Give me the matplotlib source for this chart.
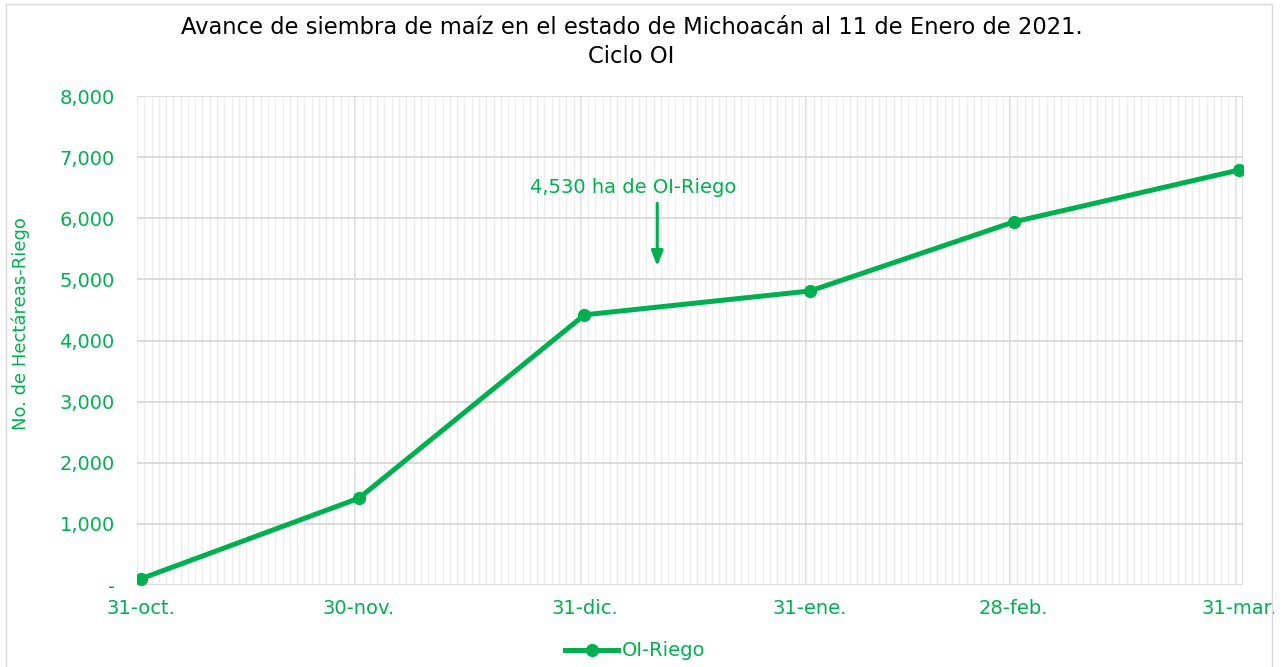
import numpy as np
import pandas as pd
import matplotlib
matplotlib.use("Agg")
import matplotlib.pyplot as plt
import matplotlib.dates as mdates
from matplotlib.ticker import FuncFormatter, MultipleLocator
from matplotlib.patches import Rectangle

# datos
fechas = pd.to_datetime(["2020-10-31", "2020-11-30", "2020-12-31",
                         "2021-01-31", "2021-02-28", "2021-03-31"])
hectareas = [100, 1420, 4420, 4810, 5940, 6790]
etiquetas_x = ["31-oct.", "30-nov.", "31-dic.", "31-ene.", "28-feb.", "31-mar."]
serie = "OI-Riego"
nota = "4,530 ha de OI-Riego"

verde = "#00B050"
plt.rcParams["font.family"] = ["DejaVu Sans"]

fig = plt.figure(figsize=(12.86, 6.67), dpi=100)
ax = fig.add_axes([137 / 1286, 1 - 585 / 667, (1243 - 137) / 1286, (585 - 96) / 667])

# excel pone cada punto a mitad del dia
medio = pd.Timedelta(hours=12)
ax.plot(fechas + medio, hectareas, color=verde, lw=3.6, marker="o", ms=8.5,
        label=serie, zorder=3)

ax.set_xlim(fechas[0], fechas[-1] + pd.Timedelta(days=1))
ax.set_ylim(0, 8000)
ax.set_xticks(fechas + medio)
ax.set_xticklabels(etiquetas_x)
ax.xaxis.set_minor_locator(mdates.DayLocator())
ax.yaxis.set_major_locator(MultipleLocator(1000))
ax.yaxis.set_major_formatter(FuncFormatter(lambda v, p: "-" if v == 0 else f"{int(v):,}"))

ax.grid(which="major", axis="y", color="#D9D9D9", lw=1.3, zorder=1)
ax.grid(which="minor", axis="x", color="#EDEDED", lw=1.0, zorder=0)
for d in list(fechas) + [fechas[-1] + pd.Timedelta(days=1)]:
    ax.axvline(d, color="#D9D9D9", lw=1.3, zorder=1)
for s in ax.spines.values():
    s.set_visible(False)
ax.tick_params(which="both", length=0)
ax.tick_params(axis="y", colors=verde, labelsize=14, pad=16)
ax.tick_params(axis="x", colors=verde, labelsize=14, pad=10)
ax.set_ylabel("No. de Hectáreas-Riego", color=verde, fontsize=13)
ax.yaxis.set_label_coords(-0.097, 0.535)

# anotacion
ax.text(pd.Timestamp("2021-01-07 06:00"), 6500, nota, color=verde, fontsize=14,
        ha="center", va="center")
ax.annotate("", xy=(pd.Timestamp("2021-01-10 12:00"), 5170),
            xytext=(pd.Timestamp("2021-01-10 12:00"), 6290),
            arrowprops=dict(arrowstyle="-|>,head_length=0.9,head_width=0.35",
                            color=verde, lw=2.2))

fig.text(0.491, 1 - 42 / 667,
         "Avance de siembra de maíz en el estado de Michoacán al 11 de Enero de 2021.\nCiclo OI",
         ha="center", va="center", fontsize=16.3, color="black", linespacing=1.3)

fig.legend(loc="center", bbox_to_anchor=(0.494, 1 - 651 / 667), frameon=False,
           fontsize=14, labelcolor=verde, handlelength=2.7, handletextpad=0.2)

fig.patches.append(Rectangle((6 / 1286, -0.01), (1272 - 6) / 1286, 1 - 4 / 667 + 0.01,
                             transform=fig.transFigure, fill=False,
                             edgecolor="#D9D9D9", lw=1))

fig.savefig("out.png", dpi=100)
